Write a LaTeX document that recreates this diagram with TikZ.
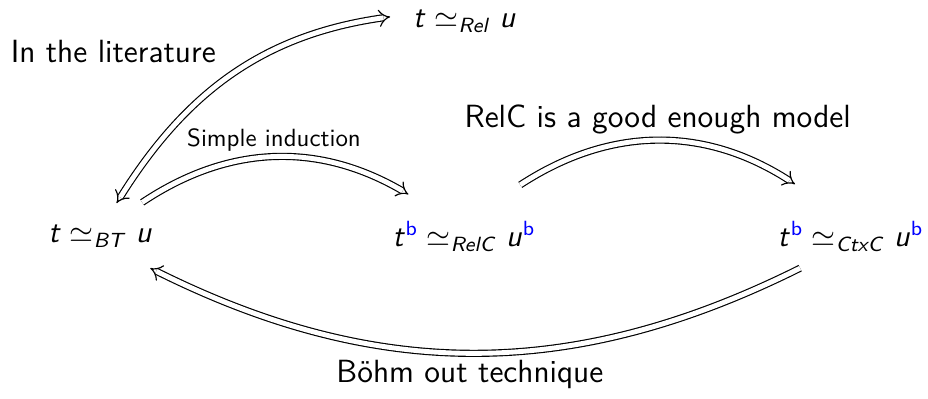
\documentclass[tikz,border=0pt]{standalone}
\usepackage{tikz}
\usetikzlibrary{arrows.meta}
\DeclareMathAlphabet{\mathsfit}{OT1}{cmss}{m}{sl}
\newcommand{\bflat}[1]{#1^{\textcolor{blue}{\mathsf{b}}}}

\begin{document}
\begin{tikzpicture}[font=\sffamily\fontsize{12}{14}\selectfont,
	dimp/.style={double, double distance=1.9pt, line width=0.45pt, -{Implies}},
	lbl/.style={font=\sffamily\fontsize{12.5}{15}\selectfont}]
	\useasboundingbox (0, 0) rectangle (12.7, 5.45);
	% equivalences
	\node (bt) at (1.376, 2.22) {$\mathsfit{t} \simeq_{\mathsfit{BT}} \mathsfit{u}$};
	\node (relc) at (6.35, 2.22) {$\bflat{\mathsfit{t}} \simeq_{\mathsfit{RelC}} \bflat{\mathsfit{u}}$};
	\node (ctxc) at (11.64, 2.22) {$\bflat{\mathsfit{t}} \simeq_{\mathsfit{CtxC}} \bflat{\mathsfit{u}}$};
	\node (rel) at (6.36, 5.16) {$\mathsfit{t} \simeq_{\mathsfit{Rel}} \mathsfit{u}$};
	% labels
	\node (lit) at (1.55, 4.75) [lbl] {In the literature};
	\node (simple) at (3.75, 3.53) [font=\sffamily\fontsize{9.7}{11}\selectfont] {Simple induction};
	\node (good) at (9.0, 3.82) [lbl] {RelC is a good enough model};
	\node (bohm) at (6.43, 0.32) [lbl] {B\"ohm out technique};
	% arrows
	\draw [dimp, {Implies}-{Implies}] ([shift={(0.22, 0.45)}]bt.center) to [out=58, in=188] ([shift={(-1.02, 0.06)}]rel.center);
	\draw [dimp] ([shift={(0.57, 0.46)}]bt.center) to [bend left=32] ([shift={(-0.76, 0.57)}]relc.center);
	\draw [dimp] ([shift={(0.77, 0.7)}]relc.center) to [bend left=33] ([shift={(-0.76, 0.71)}]ctxc.center);
	\draw [dimp] ([shift={(-0.69, -0.44)}]ctxc.center) to [bend left=26.5] ([shift={(0.68, -0.44)}]bt.center);
\end{tikzpicture}
\end{document}
